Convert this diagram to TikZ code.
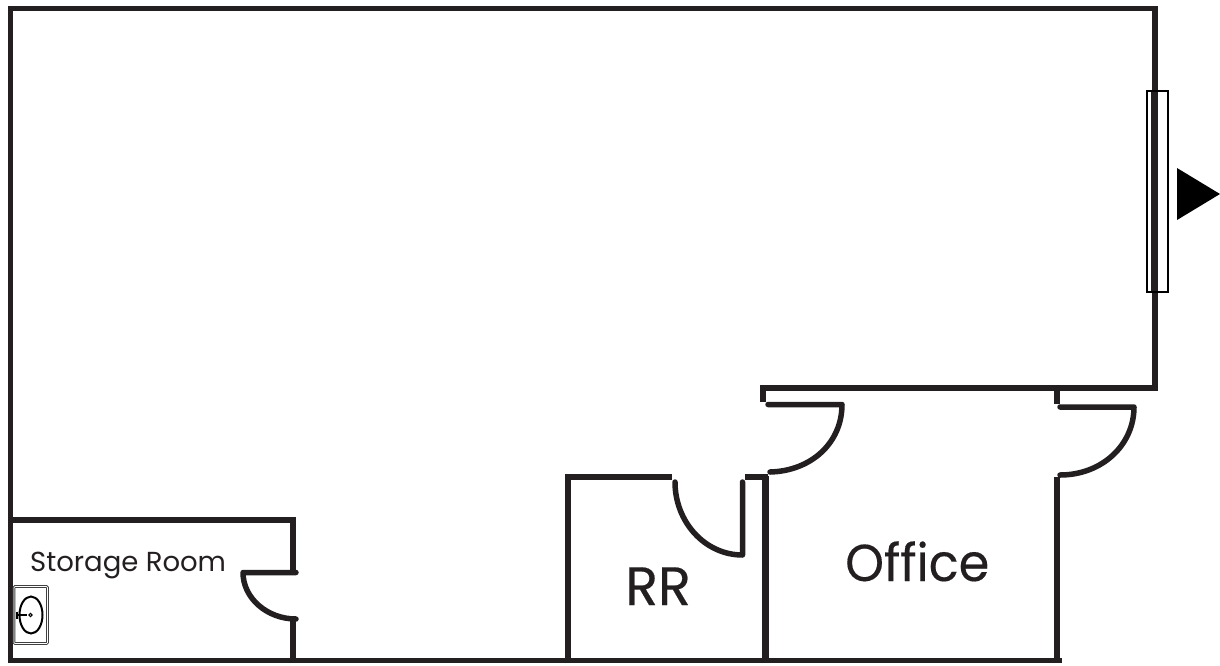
\documentclass[tikz,border=0pt]{standalone}
\usepackage{fontspec}
\setmainfont{Poppins}
\definecolor{ink}{HTML}{231F20}
\tikzset{
  wall/.style={draw=ink,line width=5.5pt,line cap=butt,line join=miter},
  thickwall/.style={draw=ink,line width=7pt,line cap=butt},
  doorleaf/.style={draw=ink,line width=5.5pt,line cap=round,line join=round},
  label/.style={text=ink,inner sep=0pt,anchor=base west},
}
\begin{document}
\begin{tikzpicture}[x=1pt,y=-1pt]
\useasboundingbox (0,0) rectangle (1220,665);
% outer shell
\draw[wall] (763,402) -- (763,388) -- (1155,388) -- (1155,8.5) -- (10.5,8.5) -- (10.5,663);
\draw[wall] (8,660.5) -- (1062,660.5);
% office
\draw[wall] (1057,388) -- (1057,404);
\draw[wall] (1057,477) -- (1057,663);
\draw[thickwall] (765,476) -- (765,663);
% RR
\draw[wall] (568,663) -- (568,477) -- (672,477);
\draw[wall] (745,477) -- (768,477);
% storage
\draw[wall] (10,520) -- (293,520) -- (293,572);
\draw[wall] (293,620) -- (293,661);
% doors
\draw[doorleaf] (768,404.5) -- (842,404.5) .. controls (842,443) and (811,471) .. (770,472);
\draw[doorleaf] (1060,407) -- (1134,407) .. controls (1134,445) and (1102,475) .. (1060,475);
\draw[doorleaf] (742.5,482) -- (742.5,555) .. controls (705,555) and (675,522) .. (675,482);
\draw[doorleaf] (296,572.5) -- (243,572.5) .. controls (243,598) and (267,619) .. (296,619);
% window
\draw[ink,line width=1.2pt] (1152,90) -- (1152,292);
\draw[black,line width=2pt] (1147,90.5) rectangle (1167.5,292);
% exit triangle
\fill[black] (1177,168) -- (1220,194) -- (1177,220) -- cycle;
% sink
\draw[black!75,line width=2.6pt,rounded corners=1pt] (14,586.5) rectangle (47.5,643.5);
\draw[white,line width=.7pt,rounded corners=1pt] (14,586.5) rectangle (47.5,643.5);
\draw[black,line width=2pt] (31,615) ellipse [x radius=11.5,y radius=18.5];
\draw[black,line width=1pt] (30.5,615) circle (1.6);
\draw[black,line width=2pt] (18,615) -- (27,615);
\draw[black,line width=1.6pt] (17,611.5) -- (17,618.5);
% labels
\node[label,font=\fontsize{27.5}{27.5}\selectfont] (storage) at (30,571) {Storage Room};
\node[label,font=\fontsize{54}{54}\selectfont\addfontfeature{FakeBold=0.4}] (rr) at (625,605) {RR};
\node[label,font=\fontsize{52}{52}\selectfont\addfontfeature{FakeStretch=0.95,FakeBold=0.3}] (office) at (845,581) {Office};
\end{tikzpicture}
\end{document}
